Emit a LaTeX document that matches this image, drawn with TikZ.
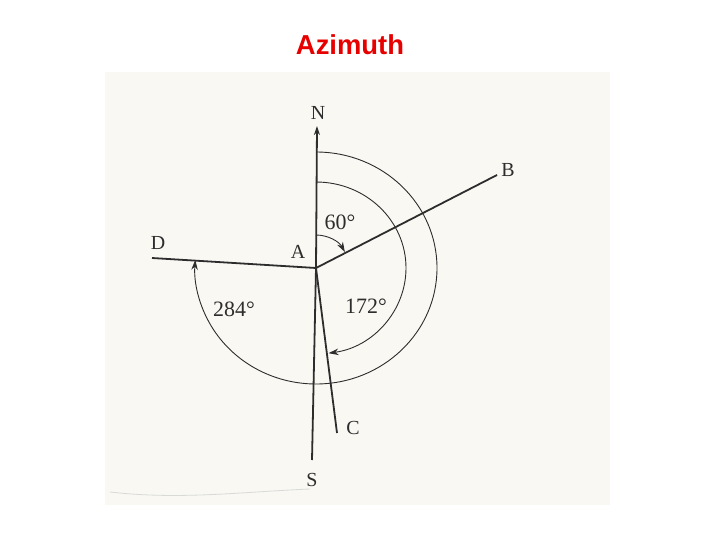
\documentclass[tikz,border=0pt]{standalone}
\usepackage{fontspec}
\setmainfont{Liberation Serif}
\newfontfamily\titlefont{Liberation Sans}
\usetikzlibrary{arrows.meta}
\definecolor{paper}{RGB}{249,248,243}
\definecolor{ink}{RGB}{45,45,45}
\definecolor{titlered}{RGB}{230,0,0}
\tikzset{
  ray/.style={draw=ink, line width=1.8bp},
  arcline/.style={draw=ink, line width=0.9bp},
  tip/.style={-{Stealth[length=9bp,width=6bp]}},
  arctip/.style={-{Stealth[length=10bp,width=6.5bp]}},
  lbl/.style={font=\fontsize{20}{20}\selectfont, text=ink, inner sep=0pt},
  num/.style={font=\fontsize{22}{22}\selectfont, text=ink, inner sep=0pt}
}
\begin{document}
\begin{tikzpicture}[x=1bp,y=-1bp]
\useasboundingbox (0,0) rectangle (720,540);
\fill[white] (0,0) rectangle (720,540);
\fill[paper] (105,72) rectangle (610,505);
\draw[black!15, line width=0.8bp] (110,492) .. controls (180,500) and (240,492) .. (310,489);
\node[font=\titlefont\bfseries\fontsize{27.5}{27.5}\selectfont, text=titlered] (title) at (350,45) {Azimuth};
\coordinate (A) at (316,268);
\coordinate (Nend) at (317,126);
\coordinate (Send) at (312,460);
\coordinate (Bend) at (497,175);
\coordinate (Dend) at (152,258);
\coordinate (Cend) at (337,433);
\path[ray, tip] (A) -- (Nend);
\path[ray] (A) -- (Send);
\path[ray] (A) -- (Bend);
\path[ray] (A) -- (Dend);
\path[ray] (A) -- (Cend);
% 60 deg arc
\path[arcline, arctip] ([shift={(0,-33)}]A) arc[start angle=-90, end angle=-29, radius=33];
% 172 deg arc
\path[arcline, arctip] ([shift={(0,-86)}]A) arc[start angle=-90, end angle=82, x radius=90, y radius=86];
% 284 deg arc
\path[arcline, arctip] ([shift={(0,-116)}]A) arc[start angle=-90, end angle=184, x radius=121, y radius=116];
\node[lbl] (N) at (318,113) {N};
\node[lbl] (S) at (312,480) {S};
\node[lbl] (B) at (508,170) {B};
\node[lbl] (D) at (158,243) {D};
\node[lbl] (C) at (353,428) {C};
\node[lbl] (Alab) at (298,252) {A};
\node[num] (n60) at (340,222) {60°};
\node[num] (n172) at (366,306) {172°};
\node[num] (n284) at (234,309) {284°};
\end{tikzpicture}
\end{document}
